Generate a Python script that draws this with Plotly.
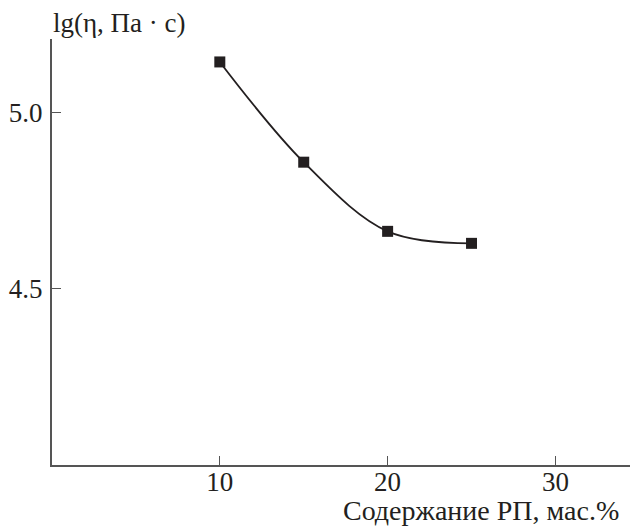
import plotly.graph_objects as go

content = [10, 15, 20, 25]
lg_eta = [5.142, 4.858, 4.662, 4.628]
x_ticks = [10, 20, 30]
y_ticks = [4.5, 5.0]
y_tick_labels = ["4.5", "5.0"]

font_family = "Times New Roman"
ink = "#231f20"

fig = go.Figure()
fig.add_trace(go.Scatter(
    x=content, y=lg_eta, mode="lines+markers",
    line=dict(shape="spline", smoothing=1.0, color=ink, width=1.8),
    marker=dict(symbol="square", size=11, color=ink),
    showlegend=False, cliponaxis=False,
))

axis_common = dict(
    showgrid=False, zeroline=False, showline=True, automargin=False,
    linecolor="#555555", linewidth=2,
    ticks="inside", ticklen=9, tickwidth=1.2, tickcolor="#555555",
    tickfont=dict(family=font_family, size=27, color=ink),
)

fig.update_xaxes(range=[0, 34.92], tickvals=x_ticks, ticklabelstandoff=-8, **axis_common)
fig.update_yaxes(range=[4.0, 5.207], tickvals=y_ticks, ticktext=y_tick_labels,
                 ticklabelstandoff=2, **axis_common)

fig.add_annotation(
    text="lg(η, Па · с)", xref="paper", yref="paper", x=0, y=1,
    xanchor="left", yanchor="bottom", yshift=-1, xshift=-1, showarrow=False,
    font=dict(family=font_family, size=27, color=ink),
)
fig.add_annotation(
    text="Содержание РП, мас.%", xref="paper", yref="paper", x=1, y=0,
    xanchor="right", yanchor="top", yshift=-28, xshift=-17, showarrow=False,
    font=dict(family=font_family, size=28, color=ink),
)

fig.update_layout(
    width=630, height=519,
    margin=dict(l=44, r=0, t=31, b=62),
    paper_bgcolor="white", plot_bgcolor="white",
)

fig.write_html("out.html", config={"displayModeBar": False})
